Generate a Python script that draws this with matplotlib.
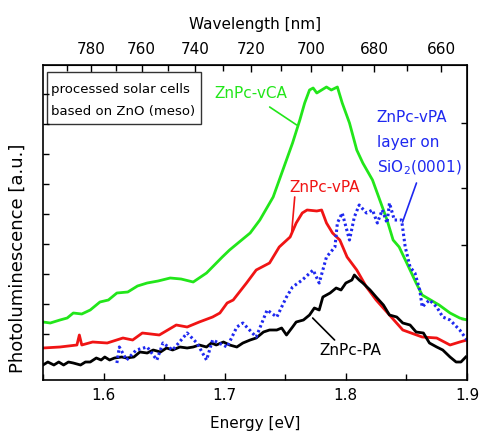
import numpy as np
import matplotlib
matplotlib.use("Agg")
import matplotlib.pyplot as plt
from matplotlib.patches import Rectangle
from matplotlib.ticker import MultipleLocator, FixedLocator, NullFormatter

# Photoluminescence spectra (energy in eV, intensity in arbitrary units)
energy_vca = [1.550, 1.556, 1.564, 1.570, 1.575, 1.582, 1.589, 1.597, 1.604, 1.611,
              1.620, 1.628, 1.636, 1.645, 1.655, 1.664, 1.674, 1.685,
              1.698, 1.704, 1.721, 1.729, 1.740, 1.748, 1.756, 1.762, 1.766, 1.770,
              1.773, 1.776, 1.784, 1.788, 1.793, 1.797, 1.803, 1.809, 1.814, 1.822,
              1.828, 1.834, 1.839, 1.844, 1.853, 1.858, 1.863, 1.877, 1.886, 1.894, 1.900]
pl_vca = [58, 57, 60, 62, 67, 66, 70, 78, 80, 87,
          88, 94, 97, 99, 102, 101, 98, 107,
          123, 130, 147, 160, 183, 210, 237, 260, 277, 290,
          292, 287, 293, 290, 293, 277, 257, 230, 217, 200,
          180, 160, 140, 133, 110, 97, 85, 75, 67, 62, 60]

energy_vpa = [1.550, 1.564, 1.578, 1.580, 1.582, 1.591, 1.603, 1.616, 1.624, 1.632,
              1.646, 1.660, 1.669, 1.679, 1.690, 1.696, 1.702, 1.707, 1.718, 1.726,
              1.737, 1.745, 1.754, 1.759, 1.764, 1.768, 1.776, 1.780, 1.784, 1.789,
              1.795, 1.801, 1.809, 1.817, 1.825, 1.836, 1.847, 1.863, 1.875, 1.886,
              1.894, 1.900]
pl_vpa = [32, 33, 35, 45, 35, 38, 37, 42, 40, 47,
          45, 55, 53, 58, 63, 67, 77, 80, 97, 110,
          117, 133, 143, 157, 167, 170, 169, 170, 157, 147,
          140, 123, 110, 93, 80, 65, 50, 43, 42, 35,
          38, 40]

energy_pa = [1.550, 1.554, 1.559, 1.563, 1.567, 1.571, 1.575, 1.581, 1.585, 1.589,
             1.594, 1.598, 1.601, 1.605, 1.609, 1.615, 1.619, 1.625, 1.630, 1.636,
             1.641, 1.647, 1.652, 1.657, 1.663, 1.669, 1.674, 1.679, 1.685, 1.689,
             1.693, 1.699, 1.704, 1.710, 1.715, 1.721, 1.726, 1.732, 1.737, 1.743,
             1.747, 1.751, 1.756, 1.759, 1.765, 1.770, 1.774, 1.778, 1.781, 1.787,
             1.792, 1.796, 1.800, 1.805, 1.807, 1.811, 1.814, 1.820, 1.825, 1.831,
             1.836, 1.842, 1.847, 1.853, 1.858, 1.864, 1.869, 1.875, 1.880, 1.886,
             1.891, 1.895, 1.899]
pl_pa = [15, 18, 15, 18, 15, 18, 17, 15, 18, 18,
         22, 20, 23, 20, 22, 23, 22, 23, 28, 27,
         30, 28, 32, 30, 33, 32, 33, 35, 33, 37,
         35, 38, 35, 33, 37, 40, 42, 48, 50, 50,
         52, 45, 53, 58, 60, 65, 72, 70, 83, 87,
         92, 90, 97, 100, 105, 100, 97, 90, 83, 75,
         65, 63, 57, 55, 48, 47, 37, 33, 30, 23,
         18, 18, 23]

energy_film = [1.611, 1.613, 1.619, 1.627, 1.636, 1.644, 1.649, 1.657, 1.669, 1.677,
               1.685, 1.690, 1.702, 1.710, 1.715, 1.726, 1.735, 1.743, 1.751, 1.756,
               1.764, 1.773, 1.778, 1.784, 1.791, 1.793, 1.797, 1.803, 1.807, 1.811,
               1.817, 1.822, 1.826, 1.830, 1.834, 1.836, 1.840, 1.846, 1.849, 1.853,
               1.857, 1.861, 1.863, 1.869, 1.875, 1.880, 1.886, 1.894, 1.900]
pl_film = [17, 33, 20, 30, 33, 20, 37, 30, 47, 37,
           20, 40, 33, 53, 57, 43, 70, 63, 83, 93,
           100, 110, 97, 123, 133, 157, 167, 140, 163, 175,
           167, 170, 157, 170, 157, 177, 160, 160, 133, 113,
           107, 90, 73, 80, 73, 63, 60, 50, 40]

wavelength_ticks = [780, 760, 740, 720, 700, 680, 660]
HC = 1239.84  # eV*nm

GREEN = "#22e61a"
RED = "#f01414"
BLUE = "#1e28f0"

plt.rcParams["font.family"] = ["DejaVu Sans"]

fig = plt.figure(figsize=(4.8, 4.36), dpi=100)
ax = fig.add_axes([43 / 480, 56 / 436, 424 / 480, 315 / 436])

ax.plot(energy_vca, pl_vca, color=GREEN, lw=2.0)
ax.plot(energy_vpa, pl_vpa, color=RED, lw=2.0)
ax.plot(energy_pa, pl_pa, color="black", lw=2.0)
ax.plot(energy_film, pl_film, color=BLUE, lw=2.2, linestyle=(0, (0.8, 0.9)))

ax.set_xlim(1.55, 1.9)
ax.set_ylim(0, 315)

ax.xaxis.set_major_locator(MultipleLocator(0.1))
ax.xaxis.set_minor_locator(MultipleLocator(0.05))
ax.tick_params(axis="x", which="major", direction="in", length=5, width=1,
               labelsize=11, pad=6, top=False)
ax.tick_params(axis="x", which="minor", direction="in", length=4, width=1, top=False)
ax.yaxis.set_major_locator(FixedLocator([46, 76, 106, 136, 166, 196, 226, 256, 286]))
ax.yaxis.set_major_formatter(NullFormatter())
ax.tick_params(axis="y", direction="in", length=4, width=1)
ax.set_xlabel("Energy [eV]", fontsize=11, labelpad=9)

for sp in ax.spines.values():
    sp.set_linewidth(1.2)

# wavelength scale on top
top = ax.secondary_xaxis("top", functions=(lambda e: HC / np.asarray(e, dtype=float),
                                           lambda w: HC / np.asarray(w, dtype=float)))
top.xaxis.set_major_locator(FixedLocator(wavelength_ticks))
top.xaxis.set_minor_locator(FixedLocator([790, 770, 750, 730, 710, 690, 670, 650]))
top.tick_params(axis="x", which="major", direction="in", length=5, width=1,
                labelsize=11, pad=6)
top.tick_params(axis="x", which="minor", direction="in", length=4, width=1)
top.set_xlabel("Wavelength [nm]", fontsize=11, labelpad=9)

right = ax.secondary_yaxis("right")
right.yaxis.set_major_locator(FixedLocator([61, 135, 192, 257]))
right.yaxis.set_major_formatter(NullFormatter())
right.tick_params(direction="in", length=4, width=1)

fig.text(18 / 480, 1 - 258 / 436, "Photoluminescence [a.u.]", rotation=90,
         fontsize=13, ha="center", va="center")

# sample description box
ax.add_patch(Rectangle((0.0094, 0.8127), 0.3632, 0.1651, transform=ax.transAxes,
                       fill=False, lw=1.0, ec="#333333"))
ax.text(0.019, 0.921, "processed solar cells", transform=ax.transAxes,
        fontsize=9.5, va="center", ha="left")
ax.text(0.019, 0.851, "based on ZnO (meso)", transform=ax.transAxes,
        fontsize=9.5, va="center", ha="left")

# curve labels with leader lines
line_kw = dict(arrowstyle="-", lw=1.2, shrinkA=0, shrinkB=0)
ax.text(1.6918, 287, "ZnPc-vCA", color=GREEN, fontsize=11, va="center", ha="left")
ax.annotate("", xy=(1.7594, 255), xytext=(1.7371, 273),
            arrowprops=dict(color=GREEN, **line_kw))

ax.text(1.7536, 193, "ZnPc-vPA", color=RED, fontsize=11, va="center", ha="left")
ax.annotate("", xy=(1.7553, 148), xytext=(1.7578, 183),
            arrowprops=dict(color=RED, **line_kw))

ax.text(1.8253, 263, "ZnPc-vPA", color=BLUE, fontsize=11, va="center", ha="left")
ax.text(1.8253, 238, "layer on", color=BLUE, fontsize=11, va="center", ha="left")
ax.text(1.8253, 212, "SiO$_2$(0001)", color=BLUE, fontsize=11, va="center", ha="left")
ax.annotate("", xy=(1.8468, 158), xytext=(1.8583, 197),
            arrowprops=dict(color=BLUE, **line_kw))

ax.text(1.7784, 30, "ZnPc-PA", color="black", fontsize=11, va="center", ha="left")
ax.annotate("", xy=(1.7726, 62), xytext=(1.7907, 40),
            arrowprops=dict(color="black", **line_kw))

fig.savefig("out.png", dpi=100)
